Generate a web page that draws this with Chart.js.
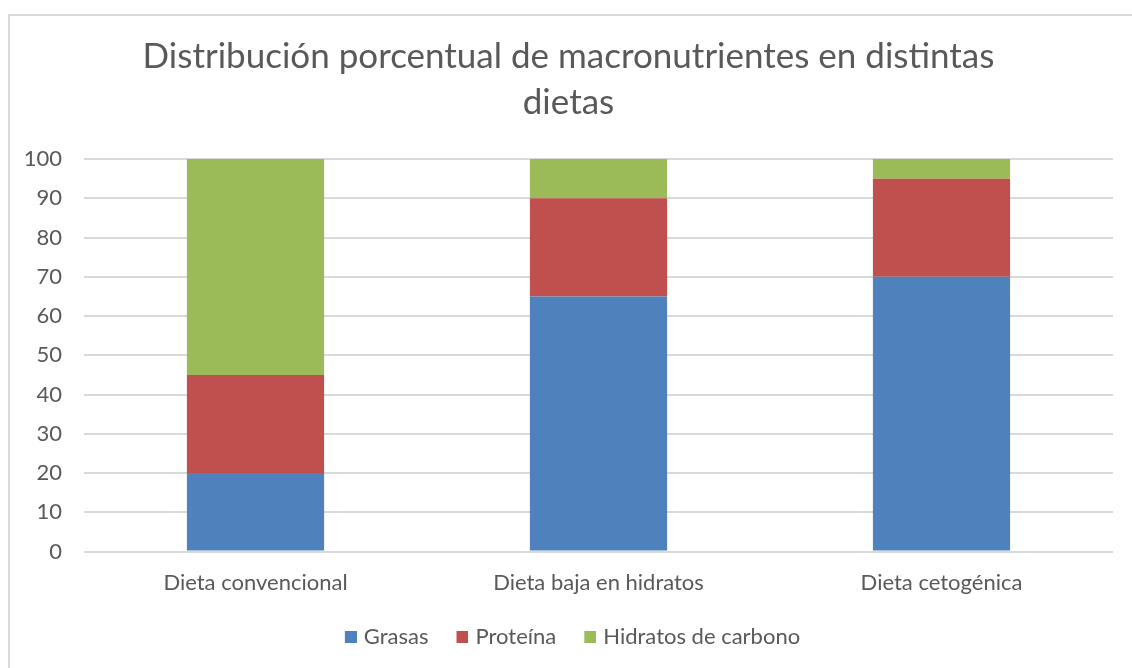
<!DOCTYPE html>
<html>
<head>
<meta charset="utf-8">
<script src="https://cdn.jsdelivr.net/npm/chart.js@4"></script>
<style>
  html, body { margin: 0; padding: 0; background: #fff; }
  #wrap { position: relative; width: 1132px; height: 668px; }
</style>
</head>
<body>
<div id="wrap"><canvas id="chart" width="1132" height="668"></canvas></div>
<script>
// Datos
const categories = ['Dieta convencional', 'Dieta baja en hidratos', 'Dieta cetogénica'];
const grasas = [20, 65, 70];
const proteina = [25, 25, 25];
const hidratos = [55, 10, 5];
const yTicks = [0, 10, 20, 30, 40, 50, 60, 70, 80, 90, 100];

const textColor = '#595959';
const gridColor = '#d9d9d9';
const fontFamily = 'Lato, "Open Sans", sans-serif';

// cuadradito de la leyenda, pegado a la derecha para dejar mas aire entre items
function legendSwatch(color) {
  const c = document.createElement('canvas');
  c.width = 24;
  c.height = 12;
  const g = c.getContext('2d');
  g.fillStyle = color;
  g.fillRect(12, 0, 12, 12);
  return c;
}

// marco gris alrededor del grafico
const framePlugin = {
  id: 'frame',
  beforeDraw(chart) {
    const ctx = chart.ctx;
    ctx.save();
    ctx.fillStyle = '#fff';
    ctx.fillRect(0, 0, chart.width, chart.height);
    ctx.strokeStyle = gridColor;
    ctx.lineWidth = 2;
    ctx.strokeRect(9, 15, 1200, 700);
    ctx.restore();
  }
};

new Chart(document.getElementById('chart'), {
  type: 'bar',
  data: {
    labels: categories,
    datasets: [
      { label: 'Grasas', data: grasas, backgroundColor: '#4F81BD' },
      { label: 'Proteína', data: proteina, backgroundColor: '#C0504D' },
      { label: 'Hidratos de carbono', data: hidratos, backgroundColor: '#9BBB59' }
    ]
  },
  options: {
    responsive: false,
    animation: false,
    layout: { padding: { left: 24, right: 19, top: 34, bottom: 10 } },
    datasets: { bar: { categoryPercentage: 0.4, barPercentage: 1 } },
    plugins: {
      title: {
        display: true,
        text: ['Distribución porcentual de macronutrientes en distintas', 'dietas'],
        color: textColor,
        font: { family: fontFamily, size: 35, weight: 'normal', lineHeight: 1.3 },
        padding: { top: 0, bottom: 34 }
      },
      legend: {
        position: 'bottom',
        labels: {
          color: textColor,
          font: { family: fontFamily, size: 22 },
          usePointStyle: true,
          pointStyleWidth: 16,
          boxHeight: 12,
          padding: 20,
          generateLabels(chart) {
            const items = Chart.defaults.plugins.legend.labels.generateLabels(chart);
            items.forEach(it => { it.pointStyle = legendSwatch(it.fillStyle); });
            return items;
          }
        }
      },
      tooltip: { enabled: false }
    },
    scales: {
      x: {
        stacked: true,
        grid: { display: false },
        border: { display: false },
        ticks: { color: textColor, font: { family: fontFamily, size: 22 }, padding: 10 }
      },
      y: {
        stacked: true,
        min: 0,
        max: 100,
        afterBuildTicks(scale) { scale.ticks = yTicks.map(v => ({ value: v })); },
        afterFit(scale) { scale.width = 60; },
        grid: { color: gridColor, lineWidth: 2, drawTicks: false },
        border: { display: false },
        ticks: { color: textColor, font: { family: fontFamily, size: 22 }, padding: 22 }
      }
    }
  },
  plugins: [framePlugin]
});
</script>
</body>
</html>
